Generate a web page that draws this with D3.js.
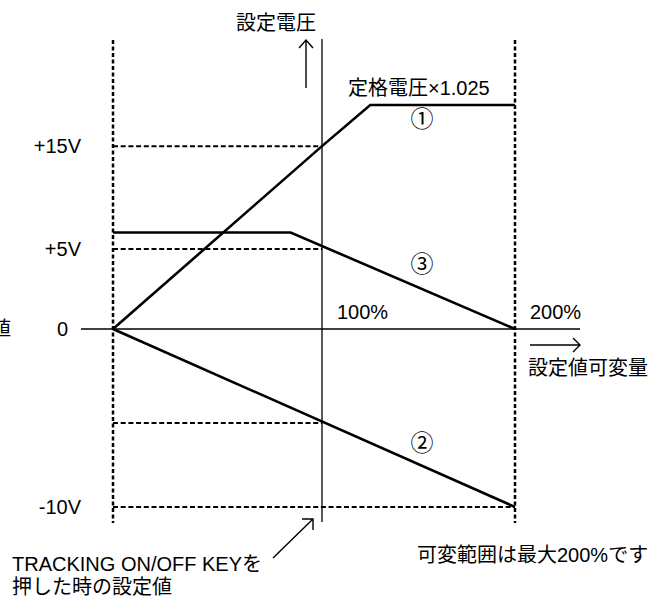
<!doctype html>
<html lang="ja">
<head>
<meta charset="utf-8" />
<title>設定電圧 / 設定値可変量</title>
<script src="https://cdn.jsdelivr.net/npm/d3@7"></script>
<style>
  html, body { margin: 0; padding: 0; background: #fff; }
  svg text { font-family: "Liberation Sans", Arial, "Noto Sans CJK JP", sans-serif; font-size: 20px; fill: #000; }
  svg text.num { font-size: 23px; }
</style>
</head>
<body>
<script>
// setting amount (%) and voltage levels used in the diagram
var pctTicks = [0, 100, 200];
var voltLevels = [-10, -5, 0, 5, 19];

// curves: [setting %, volts]
var line1 = [[0, 0], [100, 15], [125, 19], [200, 19]];
var line2 = [[0, 0], [200, -10]];
var line3 = [[0, 6.6], [85, 6.6], [200, 0]];

// dashed guide levels: volts, drawn up to this %
var guideVolts = [15, 5, -5, -10];
var guideEnds  = [100, 100, 100, 200];

var yLabelVolts = [15, 5, 0, -10];
var yLabelTexts = ["+15V", "+5V", "0", "-10V"];

var w = 655, h = 601;

var svg = d3.select("body").append("svg")
  .attr("width", w)
  .attr("height", h);

// schematic scales (not to scale, so piecewise)
var x = d3.scaleLinear().domain(pctTicks).range([113, 322, 515]);
var y = d3.scaleLinear().domain(voltLevels).range([507, 423, 329, 249, 105]);

var yTop = y(19) - 65, yBottom = y(-10) + 16;

// dotted frame lines at 0% and 200%
svg.selectAll("line.frame")
  .data([0, 200])
  .enter().append("line")
  .attr("class", "frame")
  .attr("x1", function(d) { return x(d); })
  .attr("x2", function(d) { return x(d); })
  .attr("y1", yTop)
  .attr("y2", yBottom)
  .attr("stroke", "#000")
  .attr("stroke-width", 2.5)
  .attr("stroke-dasharray", "4,2.5");

// dashed guides
svg.selectAll("line.guide")
  .data(guideVolts)
  .enter().append("line")
  .attr("class", "guide")
  .attr("x1", x(0))
  .attr("x2", function(d, i) { return x(guideEnds[i]); })
  .attr("y1", function(d) { return y(d); })
  .attr("y2", function(d) { return y(d); })
  .attr("stroke", "#000")
  .attr("stroke-width", 2)
  .attr("stroke-dasharray", "5,2.7");

// axes
svg.append("line")
  .attr("x1", x(0) - 32).attr("x2", x(200) + 65)
  .attr("y1", y(0)).attr("y2", y(0))
  .attr("stroke", "#000").attr("stroke-width", 1.3);

svg.append("line")
  .attr("x1", x(100)).attr("x2", x(100))
  .attr("y1", yTop - 1).attr("y2", yBottom - 1)
  .attr("stroke", "#000").attr("stroke-width", 1.3);

// curves
var line = d3.line()
  .x(function(d) { return x(d[0]); })
  .y(function(d) { return y(d[1]); });

svg.selectAll("path.curve")
  .data([line1, line2, line3])
  .enter().append("path")
  .attr("class", "curve")
  .attr("d", line)
  .attr("fill", "none")
  .attr("stroke", "#000")
  .attr("stroke-width", 2.6)
  .attr("stroke-linejoin", "miter");

// curve numbers
svg.append("text").attr("class", "num").attr("x", 422).attr("y", y(19) + 22).attr("text-anchor", "middle").text("①");
svg.append("text").attr("class", "num").attr("x", 422).attr("y", 272).attr("text-anchor", "middle").text("③");
svg.append("text").attr("class", "num").attr("x", 422).attr("y", 451).attr("text-anchor", "middle").text("②");

svg.append("text").attr("x", 348).attr("y", y(19) - 10).text("定格電圧×1.025");

// y labels
svg.selectAll("text.ylab")
  .data(yLabelVolts)
  .enter().append("text")
  .attr("class", "ylab")
  .attr("x", function(d) { return d === 0 ? 68 : 81; })
  .attr("y", function(d) { return y(d) + 7; })
  .attr("text-anchor", "end")
  .text(function(d, i) { return yLabelTexts[i]; });

svg.append("text").attr("x", 11).attr("y", y(0) + 7).attr("text-anchor", "end").text("設定値");

// x labels
svg.selectAll("text.xlab")
  .data([100, 200])
  .enter().append("text")
  .attr("class", "xlab")
  .attr("x", function(d) { return x(d) + 15; })
  .attr("y", y(0) - 10)
  .text(function(d) { return d + "%"; });

// arrows
var arrows = svg.append("g")
  .attr("fill", "none")
  .attr("stroke", "#000")
  .attr("stroke-width", 1.4);

// up arrow next to y title
arrows.append("path").attr("d", "M306,88 L306,40 M299,48 L306,40 L313,48");
// right arrow under x end
arrows.append("path").attr("d", "M530,345 L580,345 M573,338 L580,345 L573,352");
// pointer to the 100% setting
arrows.append("path").attr("d", "M273,558 L313,519 M302,519 L313,519 L313,530");

svg.append("text").attr("x", 236).attr("y", 30).text("設定電圧");
svg.append("text").attr("x", 528).attr("y", 375).text("設定値可変量");
svg.append("text").attr("x", 12).attr("y", 571).text("TRACKING ON/OFF KEYを");
svg.append("text").attr("x", 12).attr("y", 594).text("押した時の設定値");
svg.append("text").attr("x", 417).attr("y", 562).text("可変範囲は最大200%です");
</script>
</body>
</html>
